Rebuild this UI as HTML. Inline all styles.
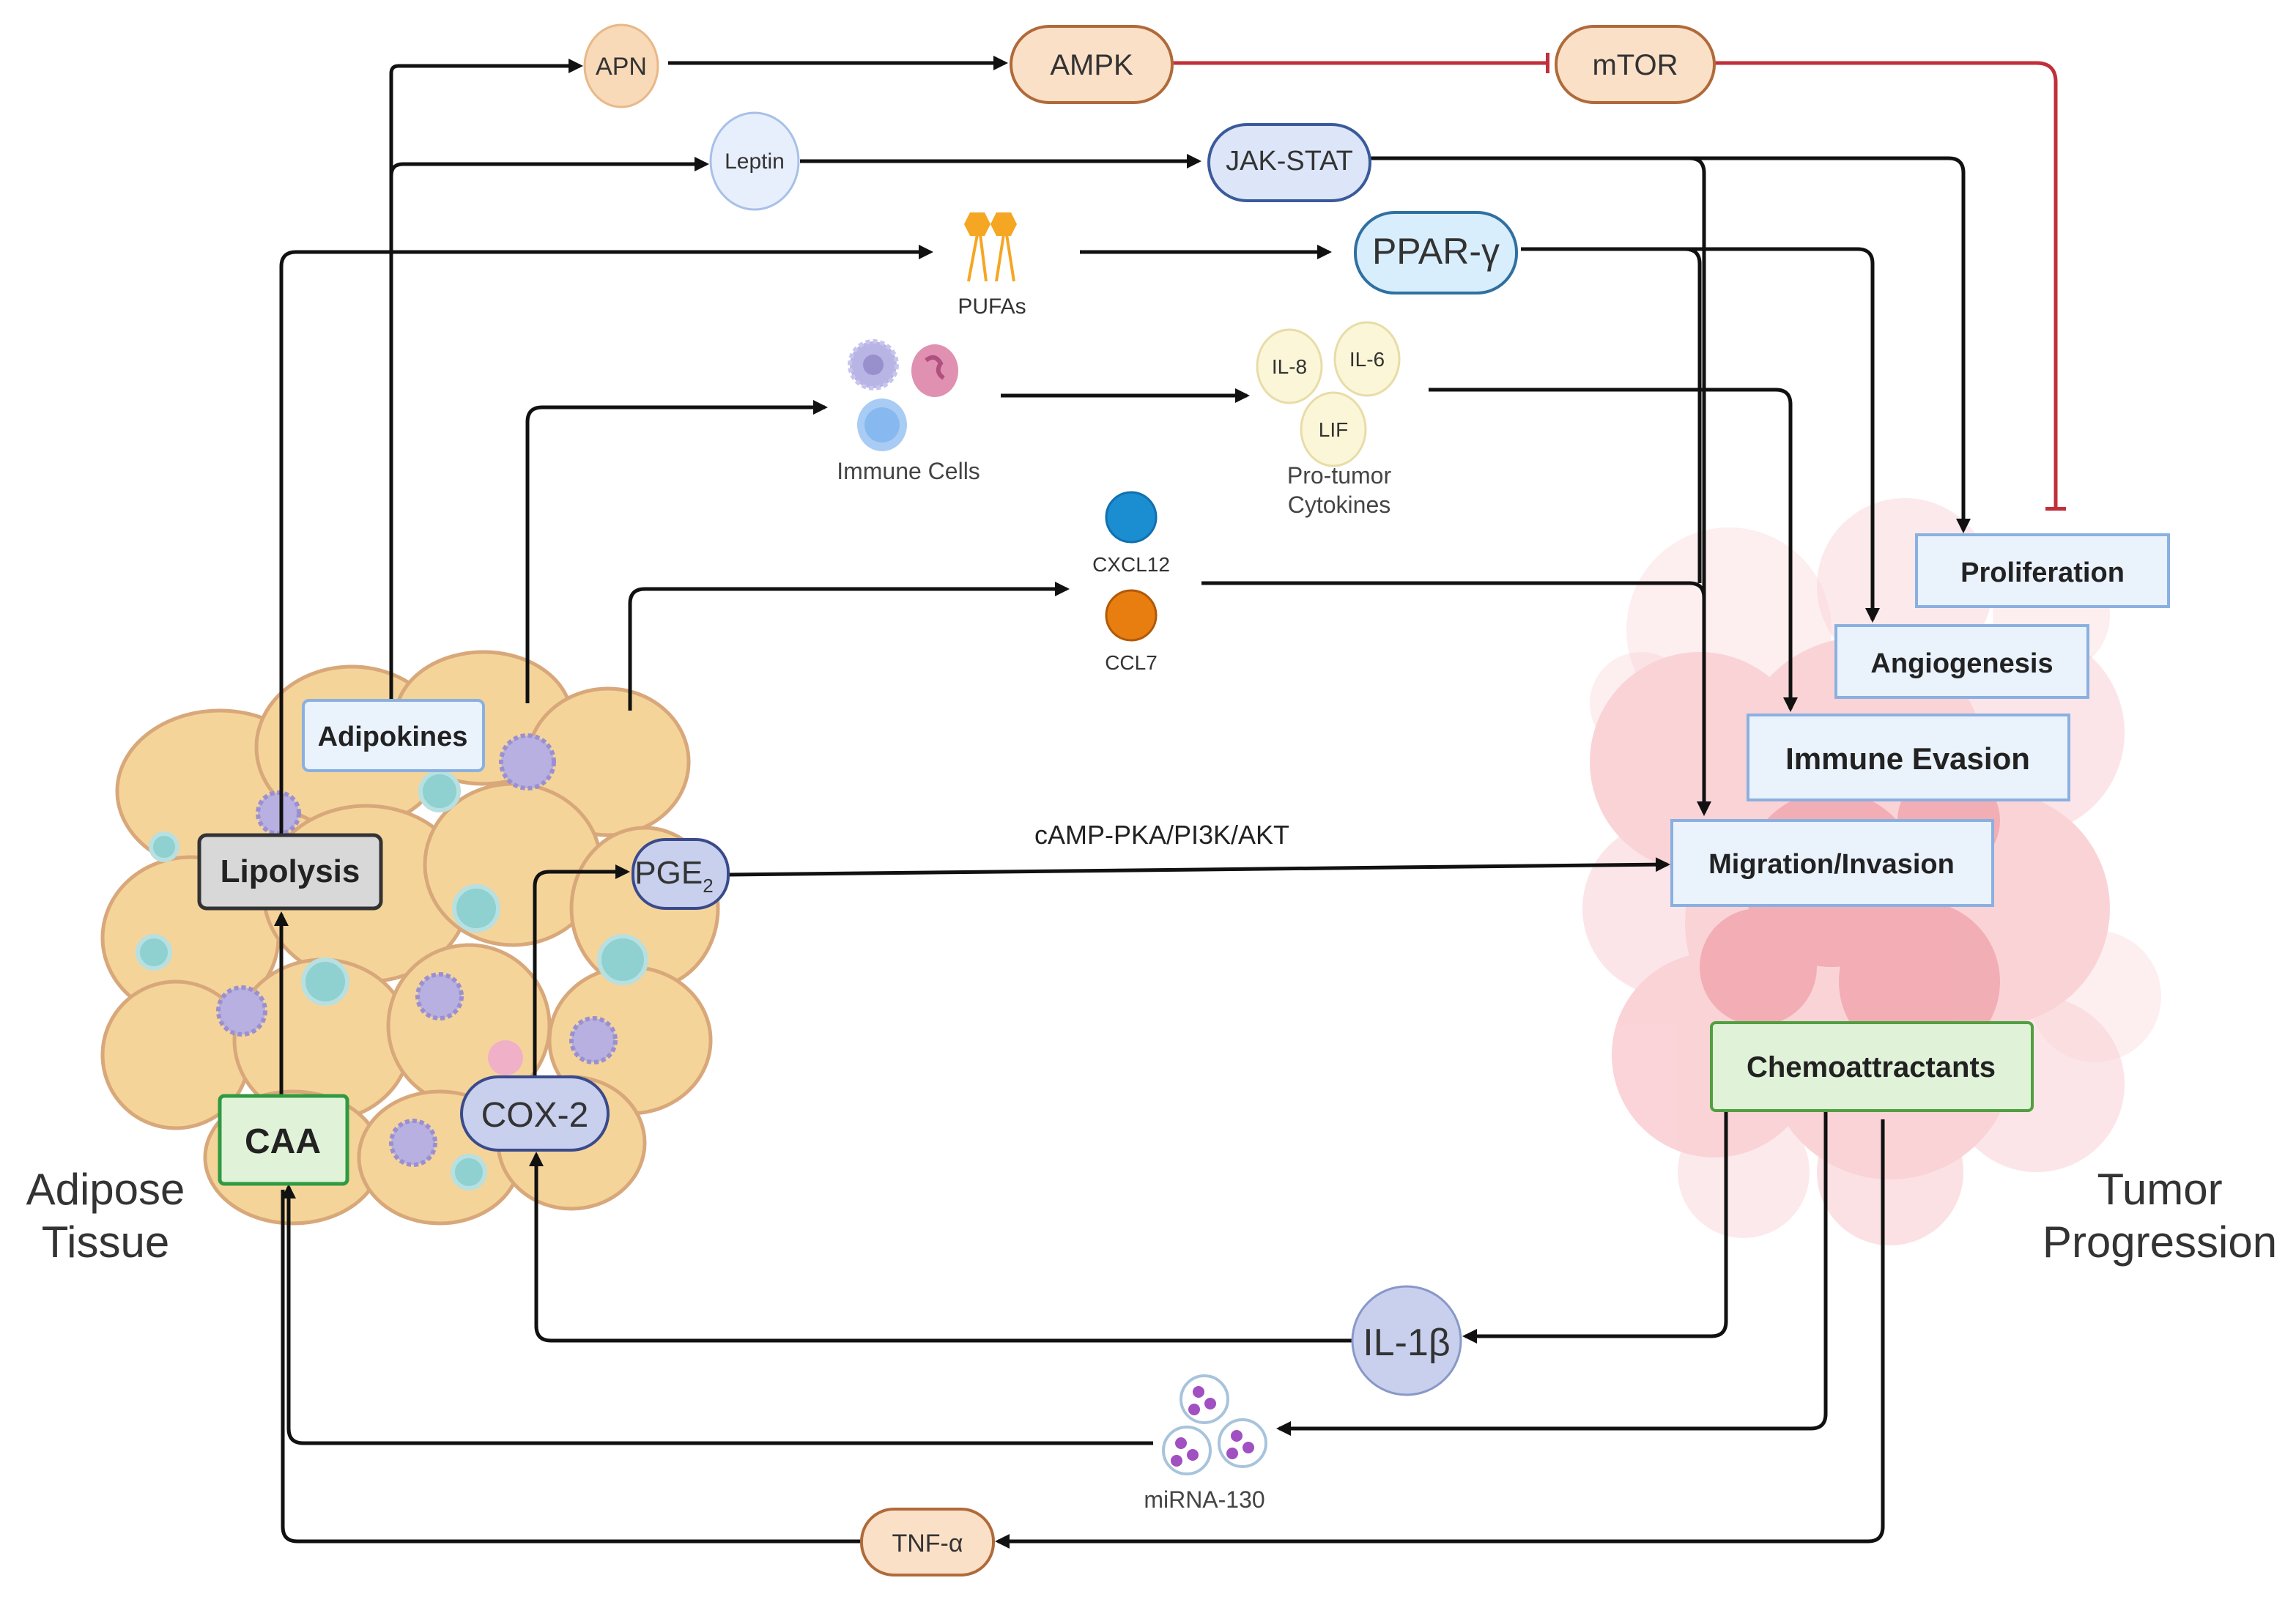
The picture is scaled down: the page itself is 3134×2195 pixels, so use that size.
<!DOCTYPE html>
<html><head><meta charset="utf-8"><style>
html,body{margin:0;padding:0;background:#fff;}
svg{display:block;}
text{font-family:"Liberation Sans",sans-serif;}
</style></head><body>
<svg width="3134" height="2195" viewBox="0 0 1567 1097.5" xmlns="http://www.w3.org/2000/svg">
<defs>
<marker id="a" markerWidth="10" markerHeight="10" refX="8" refY="5" orient="auto" markerUnits="userSpaceOnUse"><path d="M0,0 L10,5 L0,10 z" fill="#111"/></marker>
<marker id="t" markerWidth="4" markerHeight="14" refX="2" refY="7" orient="auto" markerUnits="userSpaceOnUse"><rect x="0" y="0" width="2.5" height="14" fill="#c0303a"/></marker>
</defs>
<rect width="1567" height="1097.5" fill="#fff"/>

<!-- Tumor mass -->
<g fill="#f4a0a8" opacity="0.45">
<circle cx="1180" cy="430" r="70" opacity="0.4"/><circle cx="1300" cy="400" r="60" opacity="0.5"/>
<circle cx="1160" cy="520" r="75"/><circle cx="1270" cy="520" r="85"/><circle cx="1380" cy="500" r="70" opacity="0.6"/>
<circle cx="1140" cy="620" r="60" opacity="0.6"/><circle cx="1240" cy="630" r="90"/><circle cx="1360" cy="620" r="80"/>
<circle cx="1430" cy="680" r="45" opacity="0.4"/><circle cx="1170" cy="720" r="70"/><circle cx="1290" cy="720" r="85"/>
<circle cx="1390" cy="740" r="60" opacity="0.6"/><circle cx="1190" cy="800" r="45" opacity="0.5"/><circle cx="1290" cy="800" r="50" opacity="0.7"/>
<circle cx="1400" cy="420" r="40" opacity="0.4"/><circle cx="1120" cy="480" r="35" opacity="0.4"/>
</g>
<g fill="#e05868" opacity="0.3">
<circle cx="1250" cy="600" r="60"/><circle cx="1310" cy="670" r="55"/><circle cx="1200" cy="660" r="40"/><circle cx="1330" cy="560" r="35"/>
</g>

<!-- Adipose tissue -->
<g fill="#f5d49a" stroke="#d8a87a" stroke-width="2.5">
<ellipse cx="150" cy="540" rx="70" ry="55"/><ellipse cx="240" cy="510" rx="65" ry="55"/><ellipse cx="330" cy="490" rx="60" ry="45"/>
<ellipse cx="415" cy="520" rx="55" ry="50"/><ellipse cx="130" cy="640" rx="60" ry="55"/><ellipse cx="250" cy="610" rx="70" ry="60"/>
<ellipse cx="350" cy="590" rx="60" ry="55"/><ellipse cx="440" cy="620" rx="50" ry="55"/><ellipse cx="120" cy="720" rx="50" ry="50"/>
<ellipse cx="220" cy="710" rx="60" ry="55"/><ellipse cx="320" cy="700" rx="55" ry="55"/><ellipse cx="430" cy="710" rx="55" ry="50"/>
<ellipse cx="200" cy="790" rx="60" ry="45"/><ellipse cx="300" cy="790" rx="55" ry="45"/><ellipse cx="390" cy="780" rx="50" ry="45"/>
</g>
<g fill="#b8b0e0" stroke="#9a90d0" stroke-width="3" stroke-dasharray="3 2">
<circle cx="360" cy="520" r="18"/><circle cx="190" cy="555" r="14"/><circle cx="165" cy="690" r="16"/><circle cx="300" cy="680" r="15"/>
<circle cx="405" cy="710" r="15"/><circle cx="282" cy="780" r="15"/>
</g>
<g fill="#8fd0d0" stroke="#b8e0e0" stroke-width="3">
<circle cx="300" cy="540" r="13"/><circle cx="325" cy="620" r="15"/><circle cx="222" cy="670" r="15"/><circle cx="425" cy="655" r="16"/>
<circle cx="105" cy="650" r="11"/><circle cx="112" cy="578" r="9"/><circle cx="320" cy="800" r="11"/>
</g>
<circle cx="345" cy="722" r="12" fill="#f0b0c8"/>

<!-- connectors -->
<g fill="none" stroke="#111" stroke-width="2.5">
<path d="M267 478 V50 Q267 45 272 45 H396" marker-end="url(#a)"/>
<path d="M267 120 Q267 112 275 112 H482" marker-end="url(#a)"/>
<path d="M456 43 H686" marker-end="url(#a)"/>
<path d="M546 110 H818" marker-end="url(#a)"/>
<path d="M935 108 H1330 Q1340 108 1340 118 V362" marker-end="url(#a)"/>
<path d="M935 108 H1153 Q1163 108 1163 118 V555" marker-end="url(#a)"/>
<path d="M1038 170 H1150 Q1160 170 1160 180 V398"/>
<path d="M192 570 V182 Q192 172 202 172 H635" marker-end="url(#a)"/>
<path d="M737 172 H907" marker-end="url(#a)"/>
<path d="M1038 170 H1268 Q1278 170 1278 180 V423" marker-end="url(#a)"/>
<path d="M360 480 V288 Q360 278 370 278 H563" marker-end="url(#a)"/>
<path d="M683 270 H851" marker-end="url(#a)"/>
<path d="M975 266 H1212 Q1222 266 1222 276 V484" marker-end="url(#a)"/>
<path d="M430 485 V412 Q430 402 440 402 H728" marker-end="url(#a)"/>
<path d="M820 398 H1153 Q1163 398 1163 408"/>
<path d="M497 597 L1138 590" marker-end="url(#a)"/>
<path d="M365 735 V605 Q365 595 375 595 H428" marker-end="url(#a)"/>
<path d="M192 748 V624" marker-end="url(#a)"/>
<path d="M1178 758 V902 Q1178 912 1168 912 H1000" marker-end="url(#a)"/>
<path d="M923 915 H376 Q366 915 366 905 V788" marker-end="url(#a)"/>
<path d="M1246 758 V965 Q1246 975 1236 975 H873" marker-end="url(#a)"/>
<path d="M787 985 H207 Q197 985 197 975 V810" marker-end="url(#a)"/>
<path d="M1285 764 V1042 Q1285 1052 1275 1052 H681" marker-end="url(#a)"/>
<path d="M588 1052 H203 Q193 1052 193 1042 V812"/>
</g>
<g fill="none" stroke="#c0303a" stroke-width="2.5">
<path d="M800 43 H1057" marker-end="url(#t)"/>
<path d="M1170 43 H1390 Q1403 43 1403 56 V348" marker-end="url(#t)"/>
</g>

<!-- top nodes -->
<ellipse cx="424" cy="45" rx="25" ry="28" fill="#f8d9b8" stroke="#e8b888" stroke-width="1.5"/>
<text x="424" y="51" font-size="17" text-anchor="middle" fill="#333">APN</text>
<rect x="690" y="18" width="110" height="52" rx="26" fill="#fbe0c8" stroke="#b06a3a" stroke-width="2"/>
<text x="745" y="51" font-size="20" text-anchor="middle" fill="#333">AMPK</text>
<rect x="1062" y="18" width="108" height="52" rx="26" fill="#fbe0c8" stroke="#b06a3a" stroke-width="2"/>
<text x="1116" y="51" font-size="20" text-anchor="middle" fill="#333">mTOR</text>
<ellipse cx="515" cy="110" rx="30" ry="33" fill="#e8effc" stroke="#a8c0e8" stroke-width="1.5"/>
<text x="515" y="115" font-size="15" text-anchor="middle" fill="#333">Leptin</text>
<rect x="825" y="85" width="110" height="52" rx="26" fill="#dce6f8" stroke="#3a5a9a" stroke-width="2"/>
<text x="880" y="116" font-size="19" text-anchor="middle" fill="#333">JAK-STAT</text>
<rect x="925" y="145" width="110" height="55" rx="27" fill="#d8eefc" stroke="#2f70a0" stroke-width="2"/>
<text x="980" y="180" font-size="25" text-anchor="middle" fill="#333">PPAR-γ</text>

<!-- PUFAs -->
<g stroke="#f5a623" stroke-width="2" fill="none">
<path d="M667 160 L661 192 M669 160 L673 192 M685 160 L680 192 M687 160 L692 192"/>
</g>
<polygon points="662,145 672,145 676,153 672,161 662,161 658,153" fill="#f5a623"/>
<polygon points="680,145 690,145 694,153 690,161 680,161 676,153" fill="#f5a623"/>
<text x="677" y="214" font-size="15" text-anchor="middle" fill="#333">PUFAs</text>

<!-- Immune cells -->
<circle cx="596" cy="249" r="16" fill="#b8b4e4" stroke="#c8c4f0" stroke-width="3" stroke-dasharray="3 2"/>
<circle cx="596" cy="249" r="7" fill="#9890cc"/>
<ellipse cx="638" cy="253" rx="16" ry="18" fill="#e090b0"/>
<path d="M632 246 q6 -5 10 2 q-4 6 2 10" stroke="#b05080" stroke-width="3" fill="none"/>
<ellipse cx="602" cy="290" rx="17" ry="18" fill="#a8ccf4"/>
<circle cx="602" cy="290" r="12" fill="#88b8f0"/>
<text x="620" y="327" font-size="16" text-anchor="middle" fill="#444">Immune Cells</text>

<!-- Cytokines -->
<g fill="#fbf6d8" stroke="#e8dca8" stroke-width="1.5">
<ellipse cx="880" cy="250" rx="22" ry="25"/><ellipse cx="933" cy="245" rx="22" ry="25"/><ellipse cx="910" cy="293" rx="22" ry="25"/>
</g>
<text x="880" y="255" font-size="14" text-anchor="middle" fill="#333">IL-8</text>
<text x="933" y="250" font-size="14" text-anchor="middle" fill="#333">IL-6</text>
<text x="910" y="298" font-size="14" text-anchor="middle" fill="#333">LIF</text>
<text x="914" y="330" font-size="16" text-anchor="middle" fill="#444">Pro-tumor</text>
<text x="914" y="350" font-size="16" text-anchor="middle" fill="#444">Cytokines</text>

<circle cx="772" cy="353" r="17" fill="#1a8ed0" stroke="#1070b0" stroke-width="1.5"/>
<text x="772" y="390" font-size="14" text-anchor="middle" fill="#333">CXCL12</text>
<circle cx="772" cy="420" r="17" fill="#e87d10" stroke="#b05a08" stroke-width="1.5"/>
<text x="772" y="457" font-size="14" text-anchor="middle" fill="#333">CCL7</text>

<text x="793" y="576" font-size="18" text-anchor="middle" fill="#222">cAMP-PKA/PI3K/AKT</text>

<!-- tumor boxes -->
<g fill="#eaf2fc" stroke="#8ab0e0" stroke-width="2">
<rect x="1308" y="365" width="172" height="49"/>
<rect x="1253" y="427" width="172" height="49"/>
<rect x="1193" y="488" width="219" height="58"/>
<rect x="1141" y="560" width="219" height="58"/>
</g>
<g font-weight="bold" fill="#222" text-anchor="middle">
<text x="1394" y="397" font-size="19">Proliferation</text>
<text x="1339" y="459" font-size="19">Angiogenesis</text>
<text x="1302" y="525" font-size="21">Immune Evasion</text>
<text x="1250" y="596" font-size="19">Migration/Invasion</text>
</g>
<rect x="1168" y="698" width="219" height="60" rx="3" fill="#e0f2d8" stroke="#50a040" stroke-width="2"/>
<text x="1277" y="735" font-size="20" font-weight="bold" text-anchor="middle" fill="#222">Chemoattractants</text>

<!-- adipose boxes -->
<rect x="207" y="478" width="123" height="48" rx="4" fill="#eaf2fc" stroke="#8ab0e0" stroke-width="2"/>
<text x="268" y="509" font-size="19" font-weight="bold" text-anchor="middle" fill="#222">Adipokines</text>
<rect x="136" y="570" width="124" height="50" rx="5" fill="#d8d8d8" stroke="#333" stroke-width="2.5"/>
<text x="198" y="602" font-size="22" font-weight="bold" text-anchor="middle" fill="#222">Lipolysis</text>
<rect x="432" y="573" width="65" height="47" rx="22" fill="#c8d0ee" stroke="#3a4a8a" stroke-width="2"/>
<text x="460" y="603" font-size="22" text-anchor="middle" fill="#333">PGE<tspan font-size="13" dy="6">2</tspan></text>
<rect x="150" y="748" width="87" height="60" rx="3" fill="#e0f2d8" stroke="#2f9a40" stroke-width="2.5"/>
<text x="193" y="787" font-size="24" font-weight="bold" text-anchor="middle" fill="#222">CAA</text>
<rect x="315" y="735" width="100" height="50" rx="25" fill="#c8d0ee" stroke="#3a4a8a" stroke-width="2"/>
<text x="365" y="769" font-size="24" text-anchor="middle" fill="#333">COX-2</text>

<!-- bottom -->
<circle cx="960" cy="915" r="37" fill="#c8d0ee" stroke="#8898c8" stroke-width="1.5"/>
<text x="960" y="925" font-size="26" text-anchor="middle" fill="#333">IL-1β</text>
<g fill="#fff" stroke="#a8c4dc" stroke-width="2">
<circle cx="822" cy="955" r="16"/><circle cx="810" cy="990" r="16"/><circle cx="848" cy="985" r="16"/>
</g>
<g fill="#a050c0">
<circle cx="818" cy="950" r="4"/><circle cx="826" cy="958" r="4"/><circle cx="815" cy="962" r="4"/>
<circle cx="806" cy="985" r="4"/><circle cx="814" cy="993" r="4"/><circle cx="803" cy="997" r="4"/>
<circle cx="844" cy="980" r="4"/><circle cx="852" cy="988" r="4"/><circle cx="841" cy="992" r="4"/>
</g>
<text x="822" y="1029" font-size="16" text-anchor="middle" fill="#444">miRNA-130</text>
<rect x="588" y="1030" width="90" height="45" rx="22" fill="#fbe0c8" stroke="#b06a3a" stroke-width="2"/>
<text x="633" y="1059" font-size="17" text-anchor="middle" fill="#333">TNF-α</text>

<g font-size="30" fill="#333" text-anchor="middle">
<text x="72" y="822">Adipose</text><text x="72" y="858">Tissue</text>
<text x="1474" y="822">Tumor</text><text x="1474" y="858">Progression</text>
</g>
</svg>
</body></html>
